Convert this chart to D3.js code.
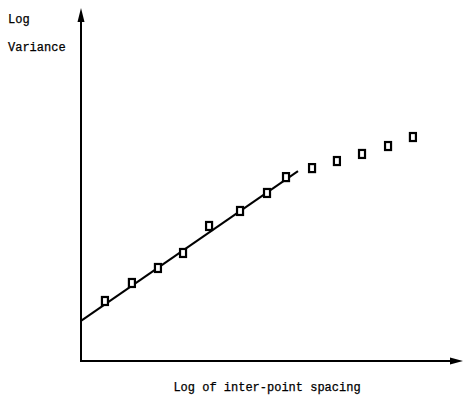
<!DOCTYPE html>
<html>
<head>
<meta charset="utf-8">
<script src="https://cdn.jsdelivr.net/npm/d3@7"></script>
<style>
  body { margin: 0; background: #fff; }
  text { font-family: "Liberation Mono", "DejaVu Sans Mono", monospace; font-size: 12px; fill: #000; stroke: #000; stroke-width: 0.25px; }
</style>
</head>
<body>
<div class="chart"></div>
<script>
const WIDTH = 465;
const HEIGHT = 398;

// measured points (arbitrary log units)
const X_VALUES = [1.26, 2.68, 4.05, 5.37, 6.74, 8.37, 9.79, 10.79, 12.16, 13.47, 14.79, 16.16, 17.47];
const Y_VALUES = [3.40, 4.42, 5.27, 6.12, 7.65, 8.50, 9.52, 10.42, 10.93, 11.33, 11.73, 12.18, 12.69];

// fitted line through the linear part
const FIT_X = [0, 11.42];
const FIT_Y = [2.27, 10.76];

const X_LABEL = "Log of inter-point spacing";
const Y_LABEL = ["Log", "Variance"];

const LEFT = 81, RIGHT = 461, BOTTOM = 361, TOP = 8;

const svg = d3.select(".chart").append("svg").attr("width", WIDTH).attr("height", HEIGHT);

const xScale = d3.scaleLinear().domain([0, 20]).range([LEFT, RIGHT]);
const yScale = d3.scaleLinear().domain([0, 20]).range([BOTTOM, TOP]);

// axes with arrowheads
svg.append("line")
  .attr("x1", xScale(0)).attr("y1", yScale(0))
  .attr("x2", xScale(0)).attr("y2", yScale(20) + 8)
  .attr("stroke", "#000").attr("stroke-width", 2);
svg.append("line")
  .attr("x1", xScale(0) - 1).attr("y1", yScale(0))
  .attr("x2", xScale(20) - 8).attr("y2", yScale(0))
  .attr("stroke", "#000").attr("stroke-width", 2);

svg.append("path")
  .attr("d", `M${xScale(0)},${yScale(20)} L${xScale(0) - 3.5},${yScale(20) + 14} L${xScale(0) + 3.5},${yScale(20) + 14} Z`)
  .attr("fill", "#000");
svg.append("path")
  .attr("d", `M${xScale(20) + 2},${yScale(0)} L${xScale(20) - 11},${yScale(0) - 3.5} L${xScale(20) - 11},${yScale(0) + 3.5} Z`)
  .attr("fill", "#000");

// fit line
const line = d3.line().x(d => xScale(d[0])).y(d => yScale(d[1]));
svg.append("path")
  .datum(d3.zip(FIT_X, FIT_Y))
  .attr("d", line)
  .attr("fill", "none")
  .attr("stroke", "#000")
  .attr("stroke-width", 2);

// square markers
svg.selectAll("rect.pt").data(d3.zip(X_VALUES, Y_VALUES)).enter().append("rect")
  .attr("class", "pt")
  .attr("x", d => xScale(d[0]) - 3)
  .attr("y", d => yScale(d[1]) - 4)
  .attr("width", 6)
  .attr("height", 8)
  .attr("fill", "#fff")
  .attr("stroke", "#000")
  .attr("stroke-width", 2.2);

// labels
svg.selectAll("text.ylab").data(Y_LABEL).enter().append("text")
  .attr("class", "ylab")
  .attr("x", 8)
  .attr("y", (d, i) => 23 + i * 28)
  .text(d => d);

svg.append("text")
  .attr("x", 267)
  .attr("y", 391)
  .attr("text-anchor", "middle")
  .text(X_LABEL);
</script>
</body>
</html>
